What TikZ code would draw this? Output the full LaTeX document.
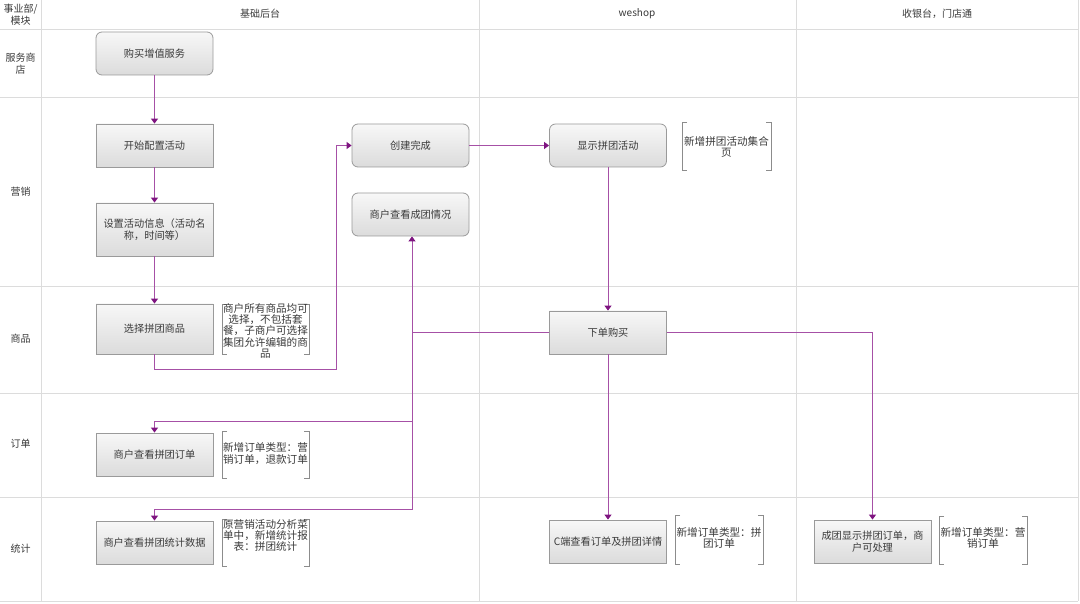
\documentclass[tikz,border=0pt]{standalone}
\usepackage{fontspec}
\setmainfont{Noto Sans CJK SC}
\usetikzlibrary{arrows.meta,positioning}
\definecolor{gridc}{HTML}{DCDCDC}
\definecolor{linec}{HTML}{A650A6}
\definecolor{tipc}{HTML}{7E1480}
\definecolor{boxb}{HTML}{9A9A9A}
\definecolor{txt}{HTML}{3A3A3A}
\definecolor{brk}{HTML}{8C8C8C}
\tikzset{
  gridline/.style={draw=gridc, line width=1pt},
  proc/.style={draw=boxb, line width=0.8pt, top color=white!97!black, bottom color=white!86!black,
    minimum width=117pt, minimum height=43pt, inner sep=1pt, align=center, text=txt,
    font=\fontsize{10.2}{12}\selectfont, text width=115pt},
  rproc/.style={proc, rounded corners=6pt},
  hdr/.style={text=txt, font=\fontsize{10}{12}\selectfont, align=center},
  note/.style={text=txt, font=\fontsize{10.6}{11.4}\selectfont, align=center, inner sep=0pt},
  flow/.style={draw=linec, line width=1pt, -{Triangle[width=7pt,length=5pt,color=tipc]}},
  plain/.style={draw=linec, line width=1pt},
  bracket/.style={draw=brk, line width=0.8pt},
}
\newcommand{\brk}[4]{% x1,y1,x2,y2
  \draw[bracket] (#1+5,#2) -- (#1,#2) -- (#1,#4) -- (#1+5,#4);
  \draw[bracket] (#3-5,#2) -- (#3,#2) -- (#3,#4) -- (#3-5,#4);
}
\begin{document}
\begin{tikzpicture}[x=1pt,y=-1pt]
\useasboundingbox (0,0) rectangle (1080,604);
% grid
\foreach \yy in {30,98,287,393,497,601} \draw[gridline] (0,\yy) -- (1078,\yy);
\foreach \xx in {41,479,796,1078} \draw[gridline] (\xx,0) -- (\xx,601);
% headers
\node[hdr] (h0) at (20.5,15) {事业部/\\模块};
\node[hdr] (h1) at (260,14) {基础后台};
\node[hdr] (h2) at (637,14) {weshop};
\node[hdr] (h3) at (937,14) {收银台，门店通};
\node[hdr] (r1) at (20.5,64) {服务商\\店};
\node[hdr] (r2) at (20.5,192) {营销};
\node[hdr] (r3) at (20.5,339) {商品};
\node[hdr] (r4) at (20.5,444) {订单};
\node[hdr] (r5) at (20.5,549) {统计};
% nodes
\node[rproc] (buy) at (154.5,53.5) {购买增值服务};
\node[proc] (start) at (154.5,145.5) {开始配置活动};
\node[proc, minimum height=53pt] (set) at (154.5,229.5) {设置活动信息（活动名\\称，时间等）};
\node[proc, minimum height=50pt] (sel) at (154.5,329) {选择拼团商品};
\node[proc] (ord) at (154.5,454.5) {商户查看拼团订单};
\node[proc] (stat) at (154.5,542.5) {商户查看拼团统计数据};
\node[rproc] (done) at (410.5,145.5) {创建完成};
\node[rproc] (view) at (410.5,214.5) {商户查看成团情况};
\node[rproc] (show) at (608,145.5) {显示拼团活动};
\node[proc] (place) at (608,332.5) {下单购买};
\node[proc] (cview) at (608,541.5) {C端查看订单及拼团详情};
\node[proc] (pos) at (872.5,541.5) {成团显示拼团订单，商\\户可处理};
% notes
\brk{222}{304}{309}{354}
\node[note, anchor=north] (n1) at (265.5,303) {商户所有商品均可\\选择，不包括套\\餐，子商户可选择\\集团允许编辑的商\\品};
\brk{222}{431}{309}{478}
\node[note] (n2) at (265.5,453.5) {新增订单类型：营\\销订单，退款订单};
\brk{222}{519}{309}{566}
\node[note, anchor=north] (n3) at (265.5,519) {原营销活动分析菜\\单中，新增统计报\\表：拼团统计};
\brk{682}{122}{771}{170}
\node[note] (n4) at (726.5,147) {新增拼团活动集合\\页};
\brk{675}{515}{763}{564}
\node[note] (n5) at (719,538) {新增订单类型：拼\\团订单};
\brk{939}{516}{1027}{564}
\node[note] (n6) at (983,538) {新增订单类型：营\\销订单};
% connectors
\coordinate (j1) at (412,332.5);
\coordinate (j2) at (412,421);
\draw[flow] (buy.south) -- (start.north);
\draw[flow] (start.south) -- (set.north);
\draw[flow] (set.south) -- (sel.north);
\draw[flow] (sel.south) -- ++(0,15) -| (336,145.5) -- (done.west);
\draw[flow] (done.east) -- (show.west);
\draw[flow] (show.south) -- (place.north);
\draw[flow] (place.south) -- (cview.north);
\draw[flow] (place.east) -| (pos.north);
\draw[plain] (place.west) -- (j1);
\draw[flow] (j1) -- (j1 |- view.south);
\draw[flow] (j1) -- (412,509) -| (stat.north);
\draw[flow] (j2) -- (ord.north |- j2) -- (ord.north);
\end{tikzpicture}
\end{document}
